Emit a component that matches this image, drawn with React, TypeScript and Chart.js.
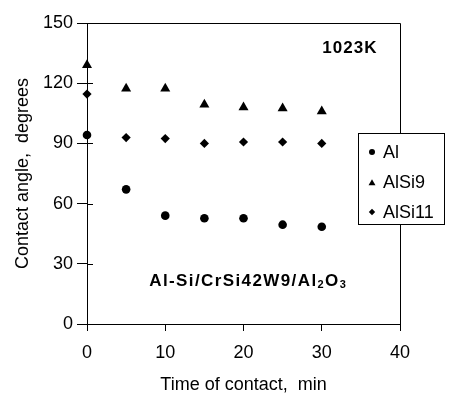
import { useEffect, useRef } from "react";
import { Chart, registerables } from "chart.js";

Chart.register(...registerables);

const times = [0, 5, 10, 15, 20, 25, 30];
const alValues = [94.2, 67.1, 54, 52.7, 52.7, 49.5, 48.5];
const alSi9Values = [129, 117.3, 117.3, 109.3, 108, 107.5, 106];
const alSi11Values = [114.6, 92.9, 92.4, 90, 90.7, 90.7, 90];
const seriesLabels = ["Al", "AlSi9", "AlSi11"];
const seriesStyles = ["circle", "triangle", "rectRot"];
const xTickValues = [0, 10, 20, 30, 40];
const yTickValues = [0, 30, 60, 90, 120, 150];
const xTitle = "Time of contact,  min";
const yTitle = "Contact angle,  degrees";
const tempLabel = "1023K";
const systemParts: [string, boolean][] = [
  ["Al-Si/CrSi42W9/Al", false],
  ["2", true],
  ["O", false],
  ["3", true],
];

const FONT = "'Liberation Sans', Arial, sans-serif";

function drawMarker(ctx: CanvasRenderingContext2D, style: string, x: number, y: number, r: number) {
  ctx.beginPath();
  if (style === "circle") {
    ctx.arc(x, y, r, 0, Math.PI * 2);
  } else if (style === "triangle") {
    const h = r * 1.5;
    const w = r * Math.sqrt(3);
    ctx.moveTo(x, y - r);
    ctx.lineTo(x + w / 2, y - r + h);
    ctx.lineTo(x - w / 2, y - r + h);
    ctx.closePath();
  } else {
    ctx.moveTo(x, y - r);
    ctx.lineTo(x + r, y);
    ctx.lineTo(x, y + r);
    ctx.lineTo(x - r, y);
    ctx.closePath();
  }
  ctx.fillStyle = "#000";
  ctx.fill();
}

const framePlugin = {
  id: "frame",
  beforeDatasetsDraw(chart: any) {
    const ctx: CanvasRenderingContext2D = chart.ctx;
    const { left, right, top, bottom } = chart.chartArea;
    const yScale = chart.scales.y;
    ctx.save();
    ctx.strokeStyle = "#000";
    ctx.lineWidth = 1;
    ctx.beginPath();
    ctx.moveTo(Math.round(left) + 0.5, Math.round(top) + 0.5);
    ctx.lineTo(Math.round(right) + 0.5, Math.round(top) + 0.5);
    ctx.lineTo(Math.round(right) + 0.5, Math.round(bottom) + 0.5);
    ctx.stroke();
    ctx.beginPath();
    for (const v of yTickValues) {
      const py = Math.round(yScale.getPixelForValue(v)) + 0.5;
      ctx.moveTo(Math.round(left), py);
      ctx.lineTo(Math.round(left) + 6, py);
    }
    ctx.stroke();
    ctx.restore();
  },
  afterDraw(chart: any) {
    const ctx: CanvasRenderingContext2D = chart.ctx;
    const yScale = chart.scales.y;
    const xScale = chart.scales.x;
    ctx.save();
    ctx.fillStyle = "#000";
    ctx.textBaseline = "middle";
    ctx.textAlign = "center";
    ctx.font = `bold 17px ${FONT}`;
    (ctx as any).letterSpacing = "1px";
    ctx.fillText(tempLabel, xScale.getPixelForValue(33.6), yScale.getPixelForValue(137.3));

    const cx = xScale.getPixelForValue(20.6);
    const cy = yScale.getPixelForValue(21.2);
    const mainFont = `bold 17px ${FONT}`;
    const subFont = `bold 11px ${FONT}`;
    (ctx as any).letterSpacing = "1.4px";
    let total = 0;
    for (const [t, sub] of systemParts) {
      ctx.font = sub ? subFont : mainFont;
      total += ctx.measureText(t).width;
    }
    let x = cx - total / 2;
    ctx.textAlign = "left";
    for (const [t, sub] of systemParts) {
      ctx.font = sub ? subFont : mainFont;
      ctx.fillText(t, x, sub ? cy + 4 : cy);
      x += ctx.measureText(t).width;
    }
    (ctx as any).letterSpacing = "0px";

    const bx = 358.5, by = 133.5, bw = 86, bh = 91;
    ctx.fillStyle = "#fff";
    ctx.fillRect(bx, by, bw, bh);
    ctx.strokeStyle = "#000";
    ctx.lineWidth = 1;
    ctx.strokeRect(bx, by, bw, bh);
    const rows = [152, 182.5, 212];
    const sizes = [3, 4, 3.2];
    ctx.font = `18px ${FONT}`;
    ctx.textAlign = "left";
    ctx.textBaseline = "middle";
    chart.data.datasets.forEach((ds: any, i: number) => {
      drawMarker(ctx, seriesStyles[i], 372, rows[i] + (i === 1 ? 0.8 : 0), sizes[i]);
      ctx.fillStyle = "#000";
      ctx.fillText(ds.label, 383, rows[i] + 1);
    });
    ctx.restore();
  },
};

export default function App() {
  const ref = useRef<HTMLCanvasElement | null>(null);
  useEffect(() => {
    document.body.style.margin = "0";
    const mk = (vals: number[]) => times.map((t, i) => ({ x: t, y: vals[i] }));
    const common = { backgroundColor: "#000", borderColor: "#000", borderWidth: 0, clip: false as const };
    const chart = new Chart(ref.current!, {
      type: "scatter",
      data: {
        datasets: [
          { label: seriesLabels[0], data: mk(alValues), pointStyle: "circle", pointRadius: 4.3, ...common },
          { label: seriesLabels[1], data: mk(alSi9Values), pointStyle: "triangle", pointRadius: 5.8, ...common },
          { label: seriesLabels[2], data: mk(alSi11Values), pointStyle: "rectRot", pointRadius: 4.6, ...common },
        ],
      },
      options: {
        animation: false,
        responsive: false,
        maintainAspectRatio: false,
        layout: { padding: { top: 23, right: 53, left: 0, bottom: 0 } },
        plugins: { legend: { display: false }, tooltip: { enabled: false } },
        scales: {
          x: {
            type: "linear",
            min: 0,
            max: 40,
            afterBuildTicks: (s: any) => { s.ticks = xTickValues.map((v) => ({ value: v })); },
            afterFit: (s: any) => { s.height = 75; },
            grid: { drawOnChartArea: false, tickLength: 7, color: "#000", lineWidth: 1 },
            border: { color: "#000", width: 1 },
            ticks: { color: "#000", font: { family: FONT, size: 18 }, padding: 11, maxRotation: 0 },
            title: { display: true, text: xTitle, color: "#000", font: { family: FONT, size: 18 }, padding: { top: 0, bottom: 3 } },
          },
          y: {
            type: "linear",
            min: 0,
            max: 150,
            afterBuildTicks: (s: any) => { s.ticks = yTickValues.map((v) => ({ value: v })); },
            afterFit: (s: any) => { s.width = 87; },
            grid: { drawOnChartArea: false, tickLength: 10, color: "#000", lineWidth: 1 },
            border: { color: "#000", width: 1 },
            ticks: { color: "#000", font: { family: FONT, size: 18 }, padding: 4 },
            title: { display: true, text: yTitle, color: "#000", font: { family: FONT, size: 18 }, padding: { top: 12, bottom: 0 } },
          },
        },
      },
      plugins: [framePlugin],
    });
    return () => chart.destroy();
  }, []);
  return (
    <div style={{ width: 453, height: 399, background: "#fff" }}>
      <canvas ref={ref} width={453} height={399} style={{ width: 453, height: 399, display: "block" }} />
    </div>
  );
}
